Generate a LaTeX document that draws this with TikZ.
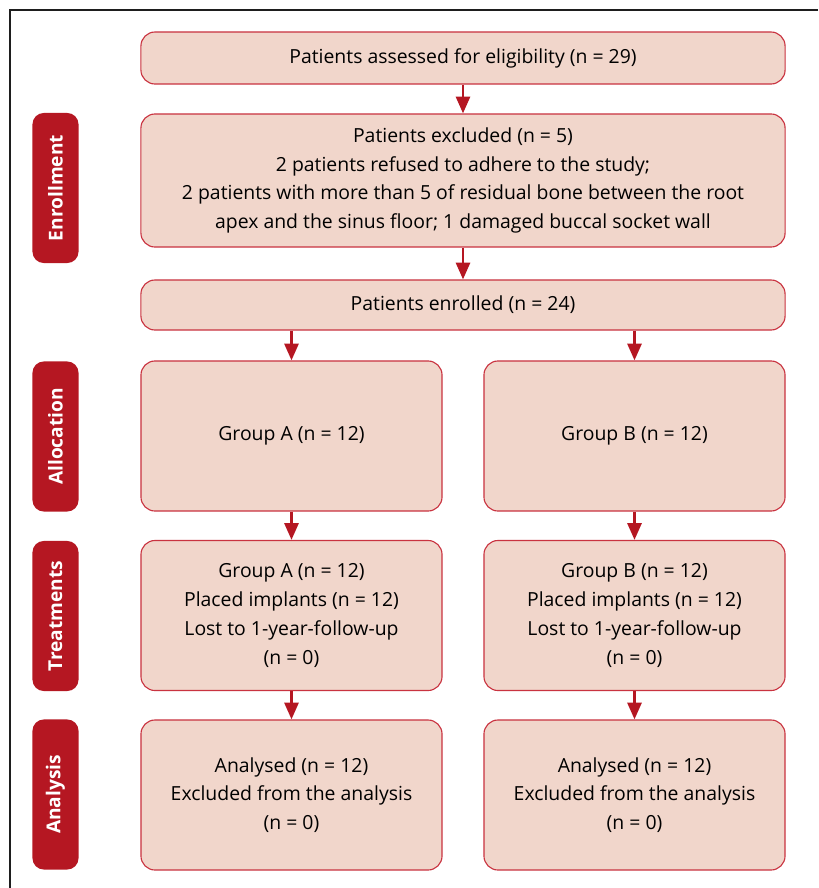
\documentclass[tikz,border=0pt]{standalone}
\usepackage{fontspec}
\setmainfont{Open Sans}
\usetikzlibrary{arrows.meta}
\definecolor{boxfill}{HTML}{F1D6CB}
\definecolor{boxline}{HTML}{C93340}
\definecolor{stagered}{HTML}{B51722}
\definecolor{framegray}{HTML}{1E1E1E}

\begin{document}
\begin{tikzpicture}[x=0.025cm,y=-0.025cm]
        \tikzset{box/.style = {draw=boxline, fill=boxfill, line width=0.8pt, rounded corners=10pt,
                align=center, inner sep=0pt, font=\fontsize{13.8}{20.4}\selectfont}}
        \tikzset{wide/.style = {box, minimum width=16.1cm}}
        \tikzset{group/.style = {box, minimum width=7.525cm, minimum height=3.75cm}}
        \tikzset{stage/.style = {fill=stagered, rounded corners=8pt, rotate=90, text=white,
                minimum width=3.75cm, minimum height=1.15cm, inner sep=0pt,
                font=\fontsize{13.6}{15}\selectfont\bfseries}}
        \tikzset{edge/.style = {draw=stagered, line width=2pt, -{Triangle[length=12pt,width=10pt]}}}
        \useasboundingbox (0,0) rectangle (818,888);
        \draw[framegray, line width=1.1pt] (818,10) -- (10,10) -- (10,888);

        \node[wide, minimum height=1.3cm] (assess) at (463,58) {Patients assessed for eligibility (n = 29)};
        \node[wide, minimum height=3.325cm] (excl) at (463,180.5) {Patients excluded (n = 5)\\
                2 patients refused to adhere to the study;\\
                2 patients with more than 5 of residual bone between the root\\
                apex and the sinus floor; 1 damaged buccal socket wall};
        \node[wide, minimum height=1.25cm] (enrol) at (463,305) {Patients enrolled (n = 24)};

        \node[group] (allocA) at (291.5,436) {Group A (n = 12)};
        \node[group] (allocB) at (634.5,436) {Group B (n = 12)};
        \node[group] (treatA) at (291.5,615.5) {Group A (n = 12)\\Placed implants (n = 12)\\Lost to 1-year-follow-up\\(n = 0)};
        \node[group] (treatB) at (634.5,615.5) {Group B (n = 12)\\Placed implants (n = 12)\\Lost to 1-year-follow-up\\(n = 0)};
        \node[group] (anaA) at (291.5,795) {Analysed (n = 12)\\Excluded from the analysis\\(n = 0)};
        \node[group] (anaB) at (634.5,795) {Analysed (n = 12)\\Excluded from the analysis\\(n = 0)};

        \node[stage] (s1) at (55.5,188) {Enrollment};
        \node[stage] (s2) at (55.5,436.5) {Allocation};
        \node[stage] (s3) at (55.5,616) {Treatments};
        \node[stage] (s4) at (55.5,794.5) {Analysis};

        \draw[edge] (assess) -- (excl);
        \draw[edge] (excl) -- (enrol);
        \draw[edge] (allocA.north |- enrol.south) -- (allocA);
        \draw[edge] (allocB.north |- enrol.south) -- (allocB);
        \draw[edge] (allocA) -- (treatA);
        \draw[edge] (allocB) -- (treatB);
        \draw[edge] (treatA) -- (anaA);
        \draw[edge] (treatB) -- (anaB);
\end{tikzpicture}
\end{document}
